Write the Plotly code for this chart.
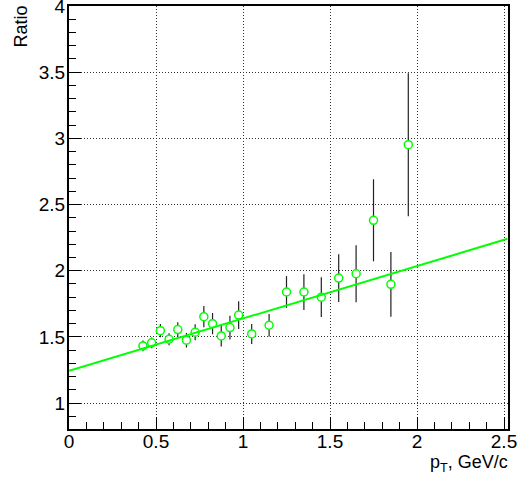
import plotly.graph_objects as go

pt = [0.425, 0.475, 0.525, 0.575, 0.625, 0.675, 0.725, 0.775, 0.825, 0.875,
      0.925, 0.975, 1.05, 1.15, 1.25, 1.35, 1.45, 1.55, 1.65, 1.75, 1.85, 1.95]
ratio = [1.432, 1.455, 1.547, 1.482, 1.555, 1.475, 1.535, 1.653, 1.600, 1.507,
         1.570, 1.665, 1.522, 1.588, 1.839, 1.839, 1.800, 1.944, 1.977, 2.381,
         1.897, 2.952]
err = [0.04, 0.04, 0.05, 0.045, 0.055, 0.055, 0.06, 0.08, 0.08, 0.08,
       0.09, 0.105, 0.075, 0.085, 0.12, 0.135, 0.15, 0.18, 0.215, 0.31,
       0.245, 0.54]
fit_x = [0.0, 2.52]
fit_y = [1.243, 2.241]

green = "#00ff00"
font = "Liberation Sans, Arial, Helvetica, sans-serif"

fig = go.Figure()
fig.add_trace(go.Scatter(
    x=pt, y=ratio, mode="markers",
    error_y=dict(type="data", array=err, visible=True, width=0,
                 thickness=1.2, color="#222222"),
    marker=dict(symbol="circle", size=8, color="white",
                line=dict(color=green, width=1.5)),
    showlegend=False, cliponaxis=False,
))
fig.add_trace(go.Scatter(
    x=fit_x, y=fit_y, mode="lines",
    line=dict(color=green, width=2), showlegend=False,
))

axis_common = dict(
    showline=True, linecolor="black", linewidth=2, mirror=True,
    ticks="inside", ticklen=12, tickwidth=1, tickcolor="black",
    showgrid=True, gridcolor="#333333", griddash="1px,2px", gridwidth=1,
    zeroline=False, automargin=False, ticklabeloverflow="allow",
    tickfont=dict(family=font, size=19, color="black"),
)

fig.update_xaxes(range=[0, 2.523], dtick=0.5, tick0=0,
                 ticklabelstandoff=-6,
                 minor=dict(dtick=0.1, ticklen=7, ticks="inside",
                            tickcolor="black", showgrid=False),
                 **axis_common)
fig.update_yaxes(range=[0.804, 4.0], dtick=0.5, tick0=1,
                 ticklabelstandoff=-2,
                 minor=dict(dtick=0.1, ticklen=7, ticks="inside",
                            tickcolor="black", showgrid=False),
                 **axis_common)

fig.add_annotation(text="Ratio", xref="paper", yref="paper",
                   x=-0.11, y=1.005, xanchor="center", yanchor="top",
                   textangle=-90, showarrow=False,
                   font=dict(family=font, size=18, color="black"))
fig.add_annotation(text="p<sub>T</sub>, GeV/c", xref="paper", yref="paper",
                   x=1.005, y=-0.05, xanchor="right", yanchor="top",
                   showarrow=False,
                   font=dict(family=font, size=18, color="black"))

fig.update_layout(
    width=517, height=480,
    margin=dict(l=69, r=9, t=6, b=51),
    plot_bgcolor="white", paper_bgcolor="white",
)

fig.write_html("out.html", config={"displayModeBar": False},
               post_script="document.body.style.margin='0';document.body.style.padding='0';")
